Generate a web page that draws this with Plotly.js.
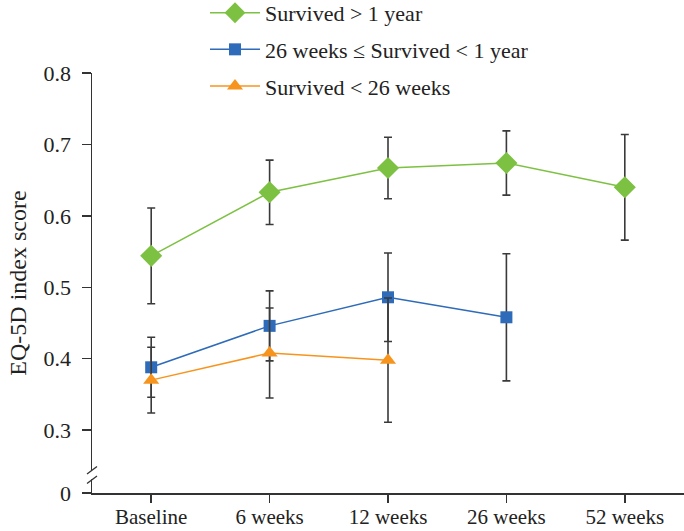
<!DOCTYPE html>
<html>
<head>
<meta charset="utf-8">
<script src="https://cdn.plot.ly/plotly-3.0.1.min.js"></script>
<style>html,body{margin:0;padding:0;background:#fff;}#chart{width:684px;height:531px;}</style>
</head>
<body>
<div id="chart"></div>
<script>
const categories = ['Baseline', '6 weeks', '12 weeks', '26 weeks', '52 weeks'];
const seriesNames = ['Survived > 1 year', '26 weeks \u2264 Survived < 1 year', 'Survived < 26 weeks'];
const survivedOver1y = [0.544, 0.633, 0.667, 0.674, 0.640];
const survivedOver1yErr = [0.067, 0.045, 0.043, 0.045, 0.074];
const survived26wTo1y = [0.388, 0.446, 0.486, 0.458];
const survived26wTo1yErr = [0.042, 0.049, 0.062, 0.089];
const survivedUnder26w = [0.370, 0.408, 0.398];
const survivedUnder26wErr = [0.046, 0.063, 0.087];
const yTickVals = [0.212, 0.3, 0.4, 0.5, 0.6, 0.7, 0.8];
const yTickText = ['0', '0.3', '0.4', '0.5', '0.6', '0.7', '0.8'];

const FONT = 'Liberation Serif, Times New Roman, serif';
const errStyle = (arr) => ({type: 'data', array: arr, visible: true, color: '#3a3a3a', thickness: 1.6, width: 4});

const traces = [
  {x: categories.slice(0, survivedOver1y.length), y: survivedOver1y, name: seriesNames[0], legendgroup: 'a',
   mode: 'lines+markers', line: {color: '#7dc142', width: 1.5},
   marker: {symbol: 'diamond', size: 17, color: '#7dc142'}, error_y: errStyle(survivedOver1yErr)},
  {x: categories.slice(0, survived26wTo1y.length), y: survived26wTo1y, name: seriesNames[1], legendgroup: 'b',
   mode: 'lines+markers', line: {color: '#2e6bb8', width: 1.5},
   marker: {symbol: 'square', size: 12, color: '#2e6bb8'}, error_y: errStyle(survived26wTo1yErr)},
  {x: categories.slice(0, survivedUnder26w.length), y: survivedUnder26w, name: seriesNames[2], legendgroup: 'c',
   mode: 'lines+markers', line: {color: '#f7941d', width: 1.5},
   marker: {symbol: 'triangle-up', size: 14, color: '#f7941d'}, error_y: errStyle(survivedUnder26wErr)}
];

const pxH = 420;
const yb1 = (493 - 481) / pxH, yb2 = (493 - 469) / pxH;
const dx = 5 / 592;
const layout = {
  width: 684, height: 531,
  margin: {l: 92, r: 0, t: 73, b: 38, pad: 0, autoexpand: false},
  paper_bgcolor: '#fff', plot_bgcolor: '#fff',
  font: {family: FONT, size: 22, color: '#222'},
  showlegend: true,
  legend: {x: (205 - 92) / 592, y: 1.193, xanchor: 'left', yanchor: 'top', tracegroupgap: 5,
           font: {family: FONT, size: 22, color: '#222'}, bgcolor: 'rgba(0,0,0,0)', itemwidth: 50},
  xaxis: {type: 'category', range: [-0.5, 4.5], showline: true, linecolor: '#333', linewidth: 1.5,
          ticks: 'outside', ticklen: 8, tickcolor: '#333', tickwidth: 1.5, showgrid: false, zeroline: false,
          tickfont: {family: FONT, size: 21, color: '#222'}, ticklabelstandoff: -4, automargin: false},
  yaxis: {range: [0.212, 0.8], tickvals: yTickVals, ticktext: yTickText, showline: true, linecolor: '#333',
          linewidth: 1.5, ticks: 'outside', ticklen: 9, tickcolor: '#333', tickwidth: 1.5, showgrid: false,
          zeroline: false, tickfont: {family: FONT, size: 22, color: '#222'}, ticklabelstandoff: 6, automargin: false,
          title: {text: 'EQ-5D index score', font: {family: FONT, size: 24, color: '#222'}, standoff: 10}},
  shapes: [
    {type: 'rect', xref: 'paper', yref: 'paper', x0: -dx * 0.6, x1: dx * 0.6, y0: yb1 + 0.004, y1: yb2 - 0.004,
     fillcolor: '#fff', line: {width: 0}, layer: 'above'},
    {type: 'line', xref: 'paper', yref: 'paper', x0: -dx, x1: dx, y0: yb1 - 0.006, y1: yb1 + 0.012,
     line: {color: '#333', width: 1.3}, layer: 'above'},
    {type: 'line', xref: 'paper', yref: 'paper', x0: -dx, x1: dx, y0: yb2 - 0.012, y1: yb2 + 0.006,
     line: {color: '#333', width: 1.3}, layer: 'above'}
  ]
};
Plotly.newPlot('chart', traces, layout, {displayModeBar: false, staticPlot: true});
</script>
</body>
</html>
